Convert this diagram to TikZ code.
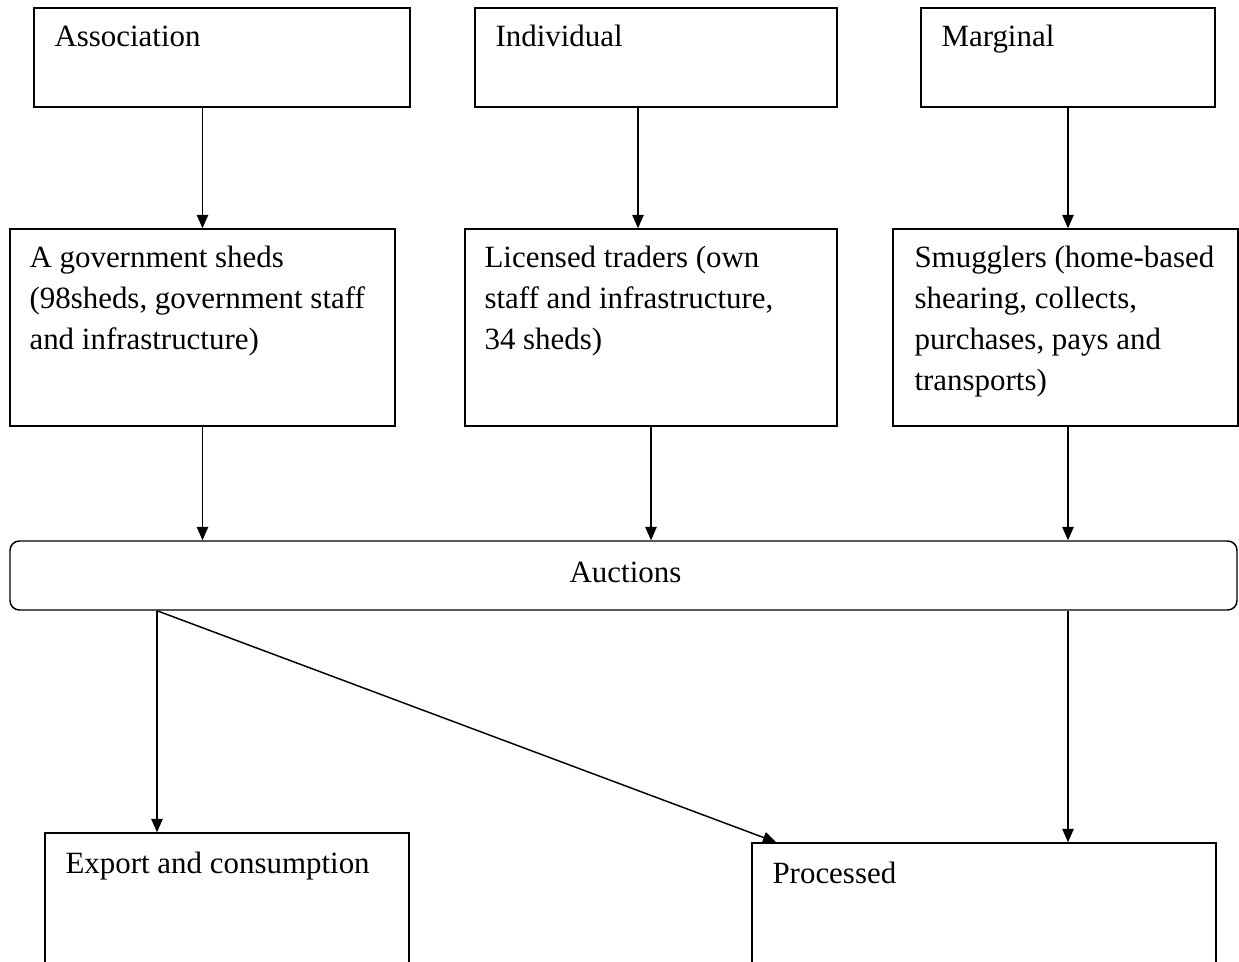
\documentclass[tikz,border=0pt]{standalone}
\usepackage{fontspec}
\setmainfont{Liberation Serif}
\usetikzlibrary{arrows.meta, fit}

\begin{document}
\begin{tikzpicture}[
    % 坐标单位:1 = 参考图中的 1 像素
    x=0.75pt, y=-0.75pt,
    % 方框样式:与 fit 配合,贴合两个角点
    mybox/.style={
        rectangle, % 矩形
        draw=black, % 边框颜色
        line width=1.1pt, % 边框宽度
        inner sep=0pt % 不留白
        },
    % 圆角方框
    myround/.style={mybox, rounded corners=7pt},
    % 字体
    myfont/.style={font=\fontsize{23.2pt}{30.75pt}\selectfont},
    % 方框内文字:左上角对齐
    mytext/.style={
        myfont,
        align=left, % 多行左对齐
        inner sep=0pt,
        anchor=north west
        },
    % 箭头样式
    myarrow/.style={line width=1.1pt, -{Triangle[width=8.5pt, length=10pt]}}
    ]
    \clip (0,0) rectangle (1239,962); % 画布大小
    % ========== 第一步:批量画方框 ==========
    \foreach \name/\xa/\ya/\xb/\yb in {assoc/34/8/410/107, indiv/475/8/837/107, marg/921/8/1215/107,
        gov/10/229/395/426, lic/465/229/837/426, smug/893/229/1238/426,
        expo/45/833/409/990, proc/752/843/1216/990} {
        \node [mybox, fit={(\xa,\ya) (\xb,\yb)}] (\name) {};
    }
    \node [myround, fit={(10,541) (1237,610)}] (auc) {};
    % ========== 第二步:方框内文字 ==========
    \node [mytext] (assoc-t) at ([shift={(21,18)}]assoc.north west) {Association};
    \node [mytext] (indiv-t) at ([shift={(21,18)}]indiv.north west) {Individual};
    \node [mytext] (marg-t) at ([shift={(21,18)}]marg.north west) {Marginal};
    \node [mytext] (gov-t) at ([shift={(20,18)}]gov.north west)
        {A government sheds\\(98sheds, government staff\\and infrastructure)};
    \node [mytext] (lic-t) at ([shift={(20,18)}]lic.north west)
        {Licensed traders (own\\staff and infrastructure,\\34 sheds)};
    \node [mytext] (smug-t) at ([shift={(22,18)}]smug.north west)
        {Smugglers (home-based\\shearing, collects,\\purchases, pays and\\transports)};
    \node [mytext] (expo-t) at ([shift={(21,19)}]expo.north west) {Export and consumption};
    \node [mytext] (proc-t) at ([shift={(21,19)}]proc.north west) {Processed};
    \node [myfont, inner sep=0pt] (auc-t) at ([shift={(2,-3)}]auc.center) {Auctions};
    % ========== 第三步:箭头 ==========
    \coordinate (indivx) at (638,0); % 竖线的横坐标
    \coordinate (splitx) at (157,0);
    \draw [myarrow] (gov.north |- assoc.south) -- (gov.north);
    \draw [myarrow] (indiv.south -| indivx) -- (lic.north -| indivx);
    \draw [myarrow] (marg.south) -- (marg.south |- smug.north);
    \foreach \name in {gov, lic} {
        \draw [myarrow] (\name.south) -- (\name.south |- auc.north);
    }
    \draw [myarrow] (smug.south -| marg.south) -- (auc.north -| marg.south);
    \draw [myarrow] (auc.south -| splitx) -- (expo.north -| splitx);
    \draw [myarrow] (auc.south -| splitx) -- ([shift={(25,0)}]proc.north west);
    \draw [myarrow] (auc.south -| marg.south) -- (proc.north -| marg.south);
\end{tikzpicture}
\end{document}
